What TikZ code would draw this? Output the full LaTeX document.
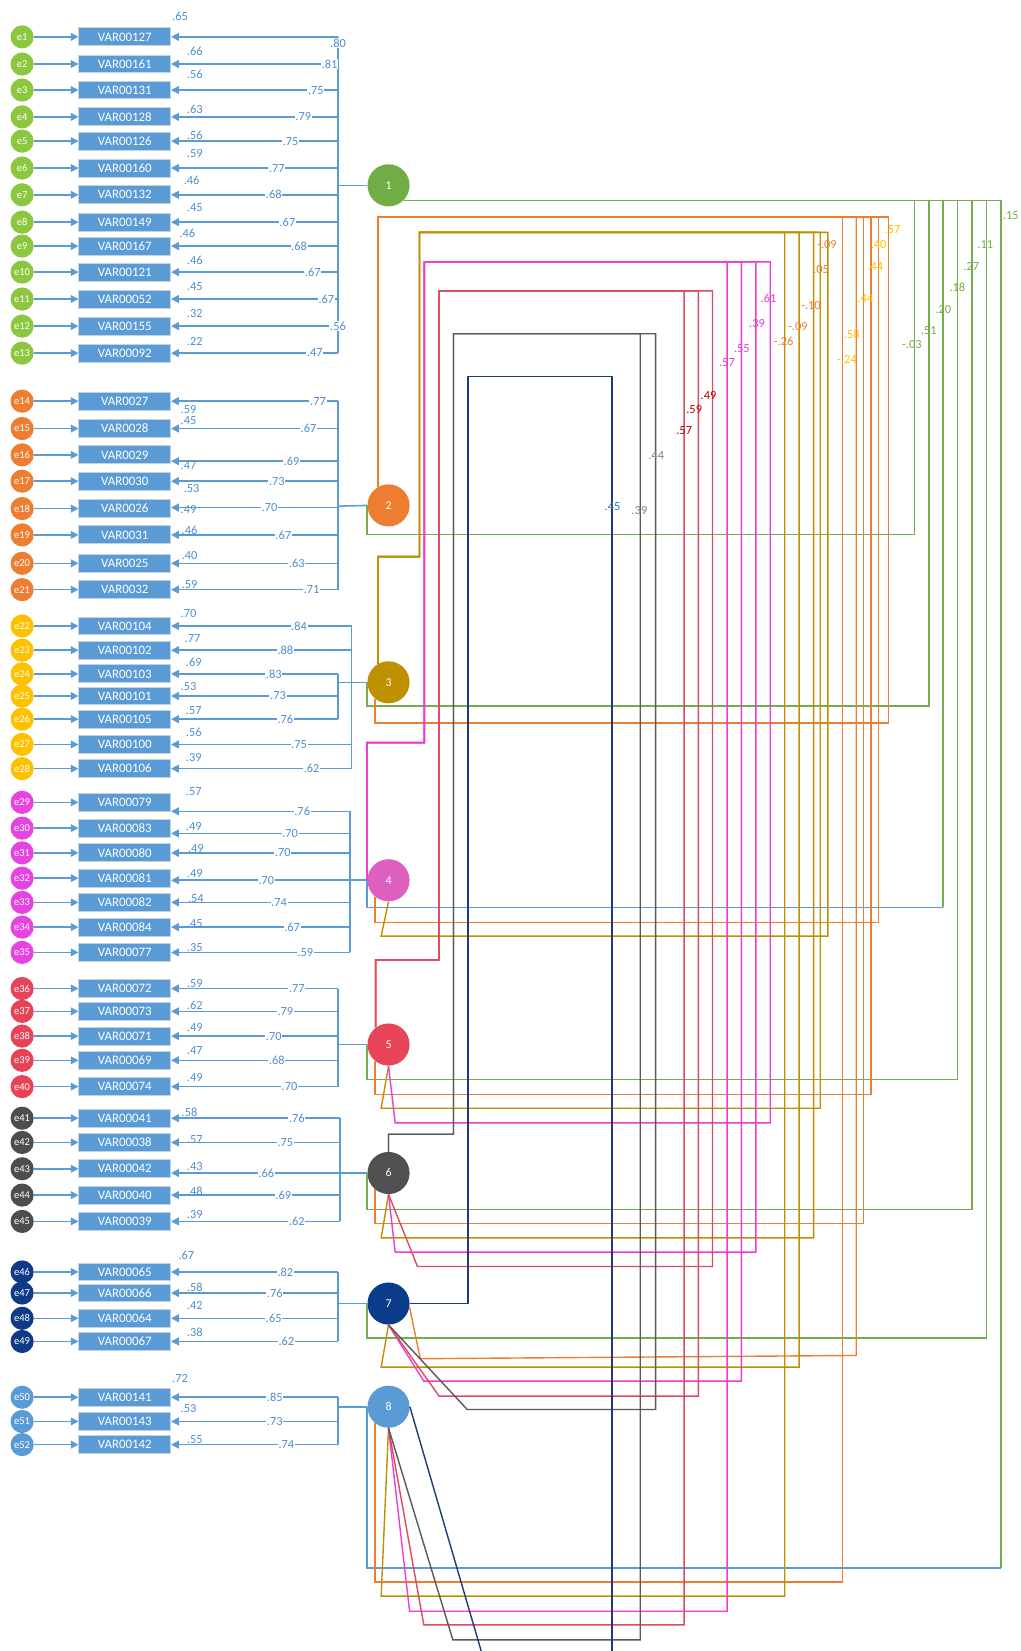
\documentclass[tikz,border=0pt]{standalone}
\usepackage{fontspec}
\setmainfont{Carlito}
\usetikzlibrary{arrows.meta,calc}
\definecolor{lblue}{HTML}{5B9BD5}
\definecolor{boxedge}{HTML}{C5D3E2}
\definecolor{labblue}{HTML}{4F8FCF}
\definecolor{ec1}{HTML}{8DC63F}
\definecolor{ec2}{HTML}{ED7D31}
\definecolor{ec3}{HTML}{FFC000}
\definecolor{ec4}{HTML}{E743E0}
\definecolor{ec5}{HTML}{E84258}
\definecolor{ec6}{HTML}{4D4D4D}
\definecolor{ec7}{HTML}{0E3A86}
\definecolor{ec8}{HTML}{5B9BD5}
\definecolor{fc1}{HTML}{70AD47}
\definecolor{fc2}{HTML}{ED7D31}
\definecolor{fc3}{HTML}{BF9000}
\definecolor{fc4}{HTML}{DD5FC0}
\definecolor{fc5}{HTML}{E8455A}
\definecolor{fc6}{HTML}{505050}
\definecolor{fc7}{HTML}{0B3C8C}
\definecolor{fc8}{HTML}{5B9BD5}
\definecolor{colg}{HTML}{74AD50}
\definecolor{colo}{HTML}{ED7D31}
\definecolor{coly}{HTML}{BF9000}
\definecolor{colm}{HTML}{EE3ED2}
\definecolor{colr}{HTML}{DC4B62}
\definecolor{colk}{HTML}{595959}
\definecolor{coln}{HTML}{1F3B78}
\definecolor{colb}{HTML}{5B9BD5}
\definecolor{txg}{HTML}{70AD47}
\definecolor{txy}{HTML}{FFC000}
\definecolor{txo}{HTML}{ED7D31}
\definecolor{txm}{HTML}{E040D0}
\definecolor{txr}{HTML}{C00000}
\definecolor{txk}{HTML}{808080}
\definecolor{txb}{HTML}{2E75B6}
\tikzset{
  evar/.style={circle, minimum size=16.5pt, inner sep=0pt, text=white, font=\fontsize{7.5}{8}\selectfont},
  obs/.style={rectangle, minimum width=65.25pt, minimum height=12.75pt, inner sep=0pt, fill=lblue, draw=boxedge, line width=0.7pt, text=white, font=\fontsize{9.2}{10}\selectfont},
  fac/.style={circle, minimum size=30pt, inner sep=0pt, text=white, font=\fontsize{8.5}{9}\selectfont},
  load/.style={draw=lblue, line width=1.1pt, -{Triangle[length=5.5pt,width=5.5pt]}},
  bus/.style={draw=lblue, line width=1.1pt},
  lab/.style={text=labblue, font=\fontsize{8.8}{9}\selectfont, inner sep=0.5pt},
  lw/.style={lab, fill=white},
  cor/.style={line width=1pt},
  clab/.style={font=\fontsize{8.8}{9}\selectfont, inner sep=0pt},
}
\newcommand\myrows[2]{%
  \foreach \n/\y/\ly/\var/\s/\sx/\sy/\l/\lx/\lly/\bx in {#2} {
    \node[evar, fill=#1] (e\n) at (21,\y) {e\n};
    \node[obs] (v\n) at (118.5,\y) {\var};
    \draw[load] (e\n.east) -- (v\n.west);
    \draw[load] (\bx,\ly) -- (v\n.east |- 0,\ly);
    \node[lab] at (\sx,\sy) {\s};
    \node[lw] at (\lx,\lly) {\l};
  }%
}
\begin{document}
\begin{tikzpicture}[x=0.75pt,y=-0.75pt]
\useasboundingbox (0,0) rectangle (969,1568);
\fill[white] (0,0) rectangle (969,1568);

% factors
\foreach \i/\fy in {1/176,2/480,3/648,4/836,5/992,6/1114,7/1238,8/1336}
  \node[fac, fill=fc\i] (F\i) at (369,\fy) {\i};

% buses and factor lines
\draw[bus] (321,35) -- (321,335.4);  \draw[bus] (321,176) -- (F1.west);
\draw[bus] (321,381) -- (321,560);   \draw[bus] (321,480.7) -- (F2.west);
\draw[bus] (334,594.5) -- (334,730); \draw[bus] (321,640) -- (321,683); \draw[bus] (321,648) -- (F3.west);
\draw[bus] (332.5,770.5) -- (332.5,904.5); \draw[bus] (332.5,836) -- (F4.west);
\draw[bus] (321,938.8) -- (321,1032); \draw[bus] (321,992) -- (F5.west);
\draw[bus] (323,1062) -- (323,1160);  \draw[bus] (323,1114) -- (F6.west);
\draw[bus] (321,1208) -- (321,1274);  \draw[bus] (321,1238) -- (F7.west);
\draw[bus] (321,1327) -- (321,1372);  \draw[bus] (321,1336) -- (F8.west);

% items
\myrows{ec1}{1/35/35/VAR00127/.65/171/16/.80/321/41/321,
2/60.8/60.8/VAR00161/.66/185/49/.81/313/61/321,
3/85.5/85.5/VAR00131/.56/185/71/.75/300/86/321,
4/111/111/VAR00128/.63/185/104/.79/288/111/321,
5/134/134/VAR00126/.56/185/129/.75/276/134/321,
6/159.6/159.6/VAR00160/.59/185/146/.77/263/160/321,
7/185/185/VAR00132/.46/182/171/.68/260/185/321,
8/211/211/VAR00149/.45/185/197/.67/273/211/321,
9/233.7/233.7/VAR00167/.46/178/222/.68/284/234/321,
10/258.4/258.4/VAR00121/.46/185/247/.67/297/259/321,
11/284/284/VAR00052/.45/185/272/.67/310/284/321,
12/309.7/309.7/VAR00155/.32/185/298/.56/321/310/321,
13/335.4/335.4/VAR00092/.22/185/324/.47/299/335/321}
\myrows{ec2}{14/381/381/VAR0027/.59/179/389/.77/302/381/321,
15/407/407/VAR0028/.45/179/399.5/.67/293/407/321,
16/432/438/VAR0029/.47/179/442/.69/277/438/321,
17/457/457/VAR0030/.53/182/464/.73/263/457/321,
18/483/482/VAR0026/.49/179/484/.70/256/482/321,
19/508/508/VAR0031/.46/180/504/.67/269/508/321,
20/535/535/VAR0025/.40/180/528/.63/282/535/321,
21/560/560/VAR0032/.59/180/555/.71/296/560/321}
\myrows{ec3}{22/594.5/594.5/VAR00104/.70/179/583/.84/284/594.5/334,
23/617.5/617.5/VAR00102/.77/183/606/.88/271/617.5/334,
24/640/640/VAR00103/.69/184/629/.83/260/640/321,
25/661/661/VAR00101/.53/179/652/.73/264/661/321,
26/683/683/VAR00105/.57/184/675/.76/271/683/321,
27/707/707/VAR00100/.56/184/696/.75/284/707/334,
28/730/730/VAR00106/.39/184/719/.62/296/730/334}
\myrows{ec4}{29/762/770.5/VAR00079/.57/184/752/.76/287/770.5/332.5,
30/786.5/791.5/VAR00083/.49/184/785/.70/275.5/791.5/332.5,
31/810/810/VAR00080/.49/186/806/.70/268.5/810/332.5,
32/834/836/VAR00081/.49/185/830/.70/253/836/332.5,
33/857/857/VAR00082/.54/186/853/.74/265/857/332.5,
34/880.5/880.5/VAR00084/.45/185/877/.67/277.5/880.5/332.5,
35/904.5/904.5/VAR00077/.35/185/900/.59/290/904.5/332.5}
\myrows{ec5}{36/938.8/938.8/VAR00072/.59/185/934/.77/282/938.8/321,
37/960.5/960.5/VAR00073/.62/185/955/.79/271/960.5/321,
38/984/984/VAR00071/.49/185/976/.70/260/984/321,
39/1007/1007/VAR00069/.47/185/997.5/.68/263/1007/321,
40/1032/1032/VAR00074/.49/185/1023/.70/275/1032/321}
\myrows{ec6}{41/1062/1062/VAR00041/.58/180/1056/.76/282/1062/323,
42/1085/1085/VAR00038/.57/185/1082/.75/271/1085/323,
43/1110/1114/VAR00042/.43/185/1108/.66/253/1114/323,
44/1135/1135/VAR00040/.48/185/1131/.69/269/1135/323,
45/1160/1160/VAR00039/.39/185/1153/.62/282/1160/323}
\myrows{ec7}{46/1208/1208/VAR00065/.67/177/1192/.82/271/1208/321,
47/1228/1228/VAR00066/.58/185/1222.5/.76/261/1228/321,
48/1252/1252/VAR00064/.42/185/1240/.65/260/1252/321,
49/1274/1274/VAR00067/.38/185/1265/.62/272/1274/321}
\myrows{ec8}{50/1327/1327/VAR00141/.72/171/1309/.85/261/1327/321,
51/1350/1350/VAR00143/.53/179/1337.5/.73/261/1350/321,
52/1372/1372/VAR00142/.55/185/1367/.74/272/1372/321}

% correlations from factor 1
\foreach \xv/\yb/\j in {868.3/507.9/2, 882.3/670.4/3, 909.5/1025.4/5, 923.1/1148.5/6, 936.8/1270.8/7}
  \draw[cor,draw=colg] (F1.-45) -| (\xv,\yb) -| (F\j.west);
\draw[cor,draw=colg] (F1.-45) -| (895.6,861.8) coordinate (c14);
\draw[cor,draw=colb] (c14) -| (F4.west);
\draw[cor,draw=colg] (F1.-45) -| (950.5,1489) coordinate (c18);
\draw[cor,draw=colb] (c18) -| (F8.west);

% factor 2
\foreach \xv/\yb/\j in {843.9/686.8/3, 834.1/876.1/4, 827.2/1039.2/5, 820.2/1162/6, 800.1/1502.6/8}
  \draw[cor,draw=colo] (F2.120) |- (\xv,206) -- (\xv,\yb) -| (F\j.-130);
\draw[cor,draw=colo] (F2.120) |- (813.2,206) -- (813.2,1287.3) -- (399.2,1290.4) -- (F7.-10);

% factor 3
\foreach \xv/\yb/\j in {786.3/889/4, 779/1052.5/5, 772.7/1175.7/6, 758.9/1298.4/7, 745.3/1515.9/8}
  \draw[cor,draw=coly] (F3.120) |- (398.4,528.6) |- (\xv,220.7) -- (\xv,\yb) -- (362,\yb) -- (F\j.south);

% factor 4
\foreach \xv/\yb/\xl/\j in {731.5/1066.4/375.3/5, 717.9/1189.2/375.3/6, 704.1/1311.7/402.5/7, 690.5/1530.2/389/8}
  \draw[cor,draw=colm] (F4.west) |- (403.1,705.3) |- (\xv,248.7) -- (\xv,\yb) -- (\xl,\yb) -- (F\j.south);

% factor 5
\foreach \xv/\yb/\xl/\j in {676.7/1202.8/396.5/6, 663.3/1325.9/417/7, 649.7/1543.2/402.5/8}
  \draw[cor,draw=colr] (F5.127) |- (417,911.6) |- (\xv,276.3) -- (\xv,\yb) -- (\xl,\yb) -- (F\j.south);

% factor 6
\foreach \xv/\yb/\xl/\j in {622.6/1338.6/443.7/7, 608.1/1557.4/430.1/8}
  \draw[cor,draw=colk] (F6.north) |- (430.7,1077.2) |- (\xv,317) -- (\xv,\yb) -- (\xl,\yb) -- (F\j.south);

% factor 7
\coordinate (b78a) at (581.3,1568);
\coordinate (b78b) at (457,1568);
\draw[cor,draw=coln] (F7.east) -| (444.3,357.5) -| (b78a);
\draw[cor,draw=coln] (F8.east) -- (b78b);

% correlation labels
\foreach \t/\x/\y in {.15/960/204.3, .11/935.8/231.8, .27/922.5/252.7, .18/909.3/273, .20/896/293.6, .51/882/313.5, -.03/866/327}
  \node[clab,text=txg] at (\x,\y) {\t};
\foreach \t/\x/\y in {.57/847.7/217.9, .40/834.4/231.8, .44/831.3/252.7, .44/821.8/283.4, .58/809/317.3, -.24/804.3/341.4}
  \node[clab,text=txy] at (\x,\y) {\t};
\foreach \t/\x/\y in {-.09/785.4/231.8, .05/779.7/255.9, -.10/770.2/290.4, -.09/757.8/310.3, -.26/744.2/324.6}
  \node[clab,text=txo] at (\x,\y) {\t};
\foreach \t/\x/\y in {.61/729.9/283.4, .39/718.9/307.2, .55/704.6/330.9, .57/690.4/344.5}
  \node[clab,text=txm] at (\x,\y) {\t};
\foreach \t/\x/\y in {.49/672.9/375.3, .59/659.3/388.9, .57/649.8/409.2}
  \node[clab,text=txr] at (\x,\y) {\t};
\foreach \t/\x/\y in {.44/623.2/432.3, .39/607.4/484.5}
  \node[clab,text=txk] at (\x,\y) {\t};
\node[clab,text=txb] at (581.7,481.4) {.45};
\end{tikzpicture}
\end{document}
